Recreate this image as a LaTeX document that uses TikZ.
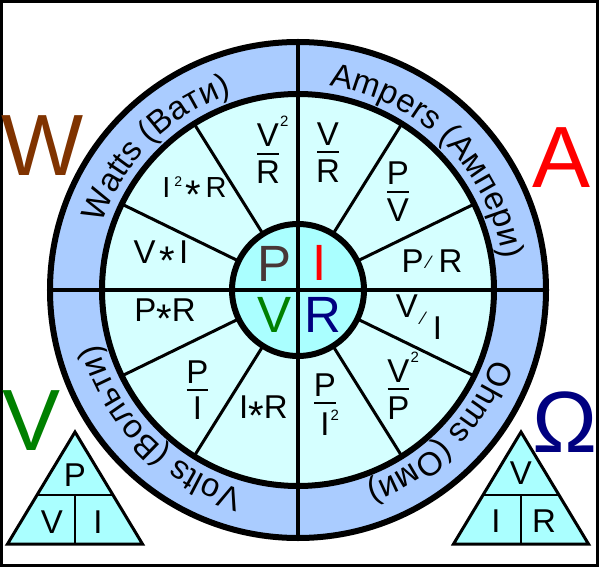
\documentclass[tikz,border=0pt]{standalone}
\usepackage{fontspec}
\setmainfont{Liberation Sans}
\usepackage{tikz}
\usetikzlibrary{decorations.text}
\usepackage{xcolor}

\definecolor{ohmblue}{RGB}{170,204,255}
\definecolor{ohmpale}{RGB}{213,255,255}
\definecolor{ohmcyan}{RGB}{170,255,255}
\definecolor{ohmbrown}{RGB}{128,51,0}
\definecolor{ohmgreen}{RGB}{0,128,0}
\definecolor{ohmnavy}{RGB}{0,0,128}
\definecolor{ohmdark}{RGB}{72,55,55}

\newcommand{\ohmringfont}{\fontsize{33}{40}\selectfont}
\newcommand{\ohmfrac}[2]{\vbox{\offinterlineskip\halign{\hfil##\hfil\cr\mbox{#1}\cr\noalign{\kern6pt}\rule{0.66em}{2pt}\cr\noalign{\kern6pt}\mbox{#2}\cr}}}
\newcommand{\ohmsq}[1][20pt]{\rlap{\kern1pt\raisebox{#1}{\fontsize{15}{15}\selectfont 2}}}
\newcommand{\ohmstar}{\raisebox{-11pt}{\fontsize{40}{40}\selectfont *}}
\newcommand{\ohmslash}{\kern4pt\raisebox{4pt}{\fontsize{18}{18}\selectfont ⁄}\kern8pt}

\tikzset{
    ohmrim/.style={draw, line width=6pt},
    ohmspoke/.style={draw, line width=3pt},
    ohmaxis/.style={draw, line width=3.5pt},
    ohmterm/.style={inner sep=0pt, font=\fontsize{33}{40}\selectfont},
    ohmcore/.style={inner sep=0pt, font=\fontsize{51}{60}\selectfont},
    ohmbig/.style={inner sep=0pt, font=\fontsize{87}{90}\selectfont},
    ohmtri/.style={draw, fill=ohmcyan, line width=3pt, line join=miter},
    ohmline/.style={draw, line width=2.5pt},
    ohmlabel/.style={decorate, decoration={text along path, text align=center}}
}

\begin{document}
\begin{tikzpicture}[x=1pt, y=1pt]
    \useasboundingbox (-298,-277) rectangle (301,290);
    \fill[white] (-298,-277) rectangle (301,290);
    \draw[line width=3pt] (-296.5,-275.5) rectangle (299.5,288.5);

    % wheel
    \fill[ohmblue] (0,0) circle[radius=248];
    \fill[ohmpale] (0,0) circle[radius=196];
    \fill[ohmcyan] (0,0) circle[radius=66];
    \foreach \a in {26,58,122,154,206,238,302,334}
        \draw[ohmspoke] (\a:66) -- (\a:196);
    \draw[ohmaxis] (0,248) -- (0,-248);
    \draw[ohmaxis] (-248,0) -- (248,0);
    \draw[ohmrim] (0,0) circle[radius=248];
    \draw[ohmrim] (0,0) circle[radius=196];
    \draw[ohmrim] (0,0) circle[radius=66];

    % ring labels
    \path[ohmlabel, decoration={text={|\ohmringfont|Watts (Вати)}}]
        (180:207) arc[start angle=180, end angle=90, radius=207];
    \path[ohmlabel, decoration={text={|\ohmringfont|Ampers (Ампери)}}]
        (90:207) arc[start angle=90, end angle=0, radius=207];
    \path[ohmlabel, decoration={text={|\ohmringfont|Ohms (Оми)}}]
        (0:207) arc[start angle=0, end angle=-90, radius=207];
    \path[ohmlabel, decoration={text={|\ohmringfont|Volts (Вольти)}}]
        (270:207) arc[start angle=270, end angle=180, radius=207];

    % centre
    \node[ohmcore, text=ohmdark] (corep) at (-23,26.5) {P};
    \node[ohmcore, text=red] (corei) at (22,27) {I};
    \node[ohmcore, text=ohmgreen] (corev) at (-23,-25) {V};
    \node[ohmcore, text=ohmnavy] (corer) at (25,-25) {R};

    % power
    \node[ohmterm] (pvr) at (-30,140) {\ohmfrac{V\ohmsq}{R}};
    \node[ohmterm, font=\fontsize{29}{34}\selectfont] (pir) at (-103.5,97.5) {I\kern4pt\raisebox{11pt}{\fontsize{14}{14}\selectfont 2}\kern3pt\ohmstar\kern5pt R};
    \node[ohmterm] (pvi) at (-137,32.5) {V\kern4pt\ohmstar\kern4pt I};
    % current
    \node[ohmterm] (ivr) at (30,137.5) {\ohmfrac{V}{R}};
    \node[ohmterm] (ipv) at (100,98) {\ohmfrac{P}{V}};
    \node[ohmterm] (ipr) at (134,28.5) {P\ohmslash R};
    % resistance
    \node[ohmterm] (rvi) at (121,-27.5) {\raisebox{11pt}{V}\ohmslash\raisebox{-11pt}{I}};
    \node[ohmterm] (rvp) at (100.5,-95.5) {\ohmfrac{V\ohmsq}{P}};
    \node[ohmterm] (rpi) at (27,-114.5) {\ohmfrac{P}{I\ohmsq[15pt]}};
    % voltage
    \node[ohmterm] (vpr) at (-133,-26) {P\ohmstar R};
    \node[ohmterm] (vpi) at (-100.5,-100) {\ohmfrac{P}{I}};
    \node[ohmterm] (vir) at (-34.5,-122.5) {I\ohmstar R};

    % corner letters
    \node[ohmbig, text=ohmbrown] (bigw) at (-255,144) {W};
    \node[ohmbig, text=red] (biga) at (264,132) {A};
    \node[ohmbig, text=ohmgreen] (bigv) at (-266,-131) {V};
    \node[ohmbig, text=ohmnavy] (bigo) at (267,-132) {Ω};

    % triangles
    \draw[ohmtri] (-223,-142) -- (-290.5,-254) -- (-155.5,-254) -- cycle;
    \draw[ohmline] (-261,-205) -- (-185,-205);
    \draw[ohmline] (-223,-205) -- (-223,-254);
    \node[ohmterm] (trip) at (-223,-185) {P};
    \node[ohmterm] (triv) at (-246,-232) {V};
    \node[ohmterm] (trii) at (-200,-232) {I};

    \draw[ohmtri] (223,-142) -- (155.5,-254) -- (290.5,-254) -- cycle;
    \draw[ohmline] (185,-205) -- (261,-205);
    \draw[ohmline] (223,-205) -- (223,-254);
    \node[ohmterm] (trov) at (223,-183) {V};
    \node[ohmterm] (troi) at (198,-231) {I};
    \node[ohmterm] (tror) at (246,-231) {R};
\end{tikzpicture}
\end{document}
